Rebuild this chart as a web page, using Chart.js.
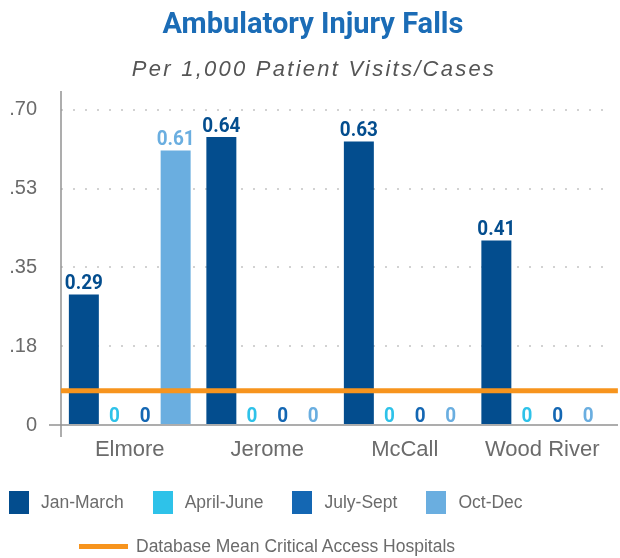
<!DOCTYPE html>
<html>
<head>
<meta charset="utf-8">
<script src="https://cdn.jsdelivr.net/npm/chart.js@4.4.1/dist/chart.umd.min.js"></script>
<style>
  html, body { margin: 0; padding: 0; background: #fff; }
  #wrap { position: relative; width: 620px; height: 558px; overflow: hidden; }
  #c { position: absolute; left: 0; top: 0; }
  .title { position: absolute; left: 0; width: 620px; text-align: center; white-space: nowrap; }
  #t1 { top: 6px; left: 3px; font-family: Roboto, sans-serif; font-weight: bold; font-size: 29px; line-height: 34px; color: #1b6cb6; }
  #t2 { top: 56px; left: 4px; font-family: 'Liberation Sans', Arial, sans-serif; font-style: italic; font-size: 22px; line-height: 26px; color: #555; letter-spacing: 2.25px; }
  .legend { position: absolute; font-family: 'Liberation Sans', Arial, sans-serif; font-size: 17.5px; color: #6b6b6b; }
  .row1 { left: 9px; top: 491px; display: flex; align-items: center; }
  .item { display: flex; align-items: center; margin-right: 29px; }
  .box { width: 20px; height: 23px; margin-right: 12px; }
  .row2 { left: 79px; top: 534px; display: flex; align-items: center; height: 24px; }
  .line { width: 49px; height: 5px; margin-right: 8px; }
</style>
</head>
<body>
<div id="wrap">
  <canvas id="c" width="620" height="558"></canvas>
  <div class="title" id="t1"></div>
  <div class="title" id="t2"></div>
  <div class="legend row1" id="legend1"></div>
  <div class="legend row2" id="legend2"></div>
</div>
<script>
const categories = ['Elmore', 'Jerome', 'McCall', 'Wood River'];
const seriesNames = ['Jan-March', 'April-June', 'July-Sept', 'Oct-Dec'];
const janMarch = [0.29, 0.64, 0.63, 0.41];
const aprilJune = [0, 0, 0, 0];
const julySept = [0, 0, 0, 0];
const octDec = [0.61, 0, 0, 0];
const seriesColors = ['#034d8e', '#2ec2e9', '#1467b3', '#6aaee0'];
const meanLabel = 'Database Mean Critical Access Hospitals';
const meanValue = 0.076;
const meanColor = '#f7941d';
const yTicks = [0, 0.175, 0.35, 0.525, 0.70];
const yTickLabels = ['0', '.18', '.35', '.53', '.70'];
const titleText = 'Ambulatory Injury Falls';
const subtitleText = 'Per 1,000 Patient Visits/Cases';

const SANS = "'Liberation Sans', Arial, sans-serif";

document.getElementById('t1').textContent = titleText;
document.getElementById('t2').textContent = subtitleText;

const seriesData = [janMarch, aprilJune, julySept, octDec];

const barDatasets = seriesData.map((d, i) => ({
  type: 'bar',
  label: seriesNames[i],
  data: d,
  backgroundColor: seriesColors[i],
  borderWidth: 0,
  categoryPercentage: 0.89,
  barPercentage: 0.98,
  order: 1
}));

// reference line across the whole category range (in category index units)
const meanSpan = [-0.5, 3.55];
const meanDataset = {
  type: 'line',
  label: meanLabel,
  parsing: false,
  data: meanSpan.map(x => ({ x: x, y: meanValue })),
  borderColor: meanColor,
  borderWidth: 5,
  pointRadius: 0,
  clip: false,
  order: 0
};

const axisLines = {
  id: 'axisLines',
  beforeDatasetsDraw(chart) {
    const { ctx, chartArea } = chart;
    const y0 = chart.scales.y.getPixelForValue(0);
    ctx.save();
    ctx.strokeStyle = '#939393';
    ctx.lineWidth = 1.5;
    ctx.beginPath();
    ctx.moveTo(chartArea.left, chartArea.top);
    ctx.lineTo(chartArea.left, y0 + 12);
    ctx.moveTo(chartArea.left - 12, y0);
    ctx.lineTo(chartArea.right + 7, y0);
    ctx.stroke();
    ctx.restore();
  }
};

const valueLabels = {
  id: 'valueLabels',
  afterDatasetsDraw(chart) {
    const { ctx } = chart;
    const sx = 0.9;
    chart.data.datasets.forEach((ds, di) => {
      if (ds.type !== 'bar') return;
      const meta = chart.getDatasetMeta(di);
      meta.data.forEach((bar, i) => {
        const v = ds.data[i];
        const txt = v === 0 ? '0' : v.toFixed(2);
        ctx.save();
        ctx.font = 'bold 21px Roboto, sans-serif';
        ctx.textAlign = 'center';
        ctx.textBaseline = 'alphabetic';
        ctx.fillStyle = ds.backgroundColor;
        ctx.translate(bar.x, bar.y - (v === 0 ? 3 : 5));
        ctx.scale(sx, 1);
        ctx.fillText(txt, 0, 0);
        ctx.restore();
      });
    });
  }
};

new Chart(document.getElementById('c'), {
  type: 'bar',
  data: { labels: categories, datasets: [...barDatasets, meanDataset] },
  options: {
    responsive: false,
    animation: false,
    devicePixelRatio: 1,
    layout: { padding: { left: 0, right: 9, top: 91, bottom: 93 } },
    plugins: {
      legend: { display: false },
      tooltip: { enabled: false },
      title: { display: false },
      subtitle: { display: false }
    },
    scales: {
      x: {
        type: 'category',
        grid: { display: false, drawTicks: false },
        border: { display: false },
        ticks: { color: '#6b6b6b', font: { family: SANS, size: 22 }, padding: 12 },
        afterFit(axis) { axis.height = 40; }
      },
      y: {
        min: 0, max: 0.742,
        afterBuildTicks(axis) { axis.ticks = yTicks.map(v => ({ value: v })); },
        grid: {
          drawTicks: false,
          lineWidth: 2,
          color: ctx => (ctx.tick && ctx.tick.value === 0) ? 'rgba(0,0,0,0)' : '#d2d2d2'
        },
        border: { display: false, dash: [2, 10] },
        ticks: {
          color: '#6b6b6b', font: { family: SANS, size: 20 }, padding: 24,
          callback: v => yTickLabels[yTicks.indexOf(v)]
        },
        afterFit(axis) { axis.width = 61; }
      }
    }
  },
  plugins: [axisLines, valueLabels]
});

const l1 = document.getElementById('legend1');
seriesNames.forEach((n, i) => {
  const it = document.createElement('div');
  it.className = 'item';
  const b = document.createElement('div');
  b.className = 'box';
  b.style.background = seriesColors[i];
  const t = document.createElement('span');
  t.textContent = n;
  it.appendChild(b); it.appendChild(t);
  l1.appendChild(it);
});
const l2 = document.getElementById('legend2');
const ln = document.createElement('div');
ln.className = 'line';
ln.style.background = meanColor;
const lt = document.createElement('span');
lt.textContent = meanLabel;
l2.appendChild(ln); l2.appendChild(lt);
</script>
</body>
</html>
